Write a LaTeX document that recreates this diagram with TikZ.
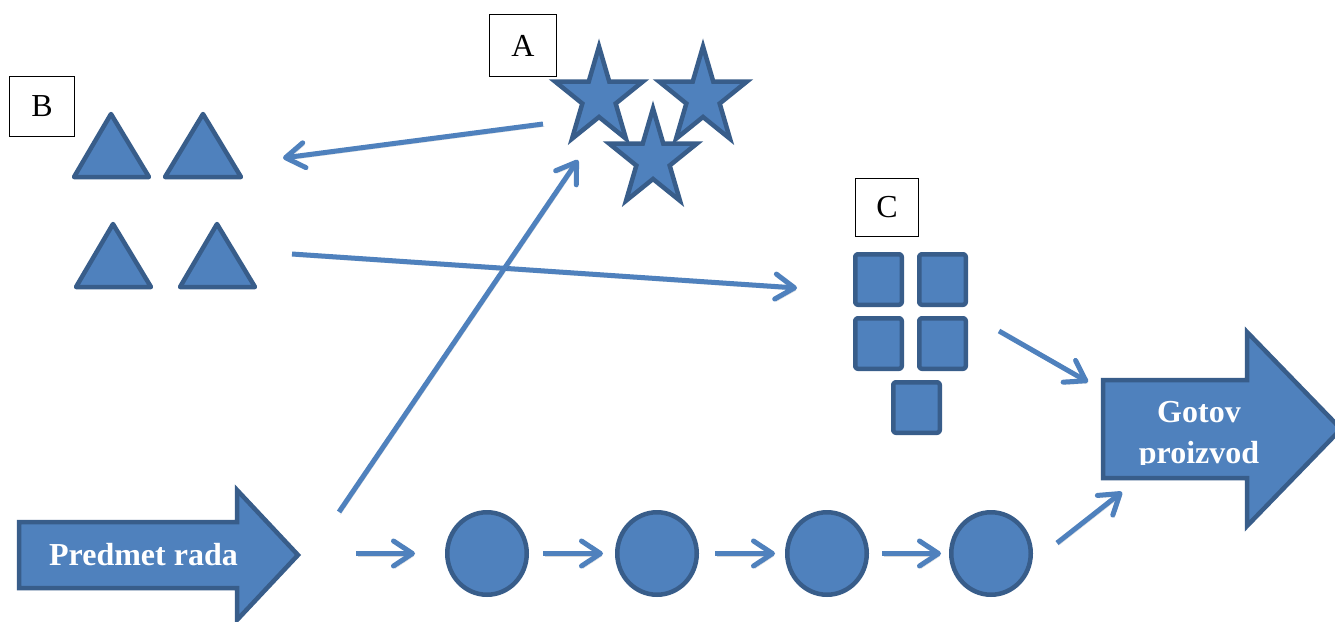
\documentclass[tikz,border=0pt]{standalone}
\usepackage{fontspec}
\setmainfont{Liberation Serif}
\usetikzlibrary{shapes.geometric,arrows.meta}
\definecolor{bfill}{HTML}{4F81BD}
\definecolor{bline}{HTML}{385D8A}
\definecolor{conncol}{HTML}{4F81BD}
\tikzset{
  shp/.style={fill=bfill, draw=bline, line width=4.5pt, line join=round},
  starshape/.style={shp, line join=miter, star, star points=5, star point ratio=2.618,
    minimum size=102pt, inner sep=0pt, transform shape},
  sqbox/.style={shp, rectangle, rounded corners=2.5pt, minimum width=46.5pt, minimum height=50.5pt, inner sep=0pt},
  circ/.style={shp, ellipse, minimum width=79.5pt, minimum height=82.5pt, inner sep=0pt},
  lbl/.style={draw=black, line width=1.2pt, fill=white, inner sep=0pt, font=\fontsize{32}{38}\selectfont},
  conn/.style={draw=conncol, line width=5pt, -{Straight Barb[round, length=19pt, width=25pt]},
    preaction={draw=black, opacity=0.15, transform canvas={shift={(1.5pt,-2.5pt)}}}},
  btxt/.style={text=white, font=\fontsize{32}{41}\selectfont\bfseries, inner sep=0pt},
}
\begin{document}
\begin{tikzpicture}[x=1pt, y=-1pt]
\useasboundingbox (0,0) rectangle (1335,621);
\fill[white] (0,0) rectangle (1335,621);

% triangles (B)
\draw[shp] (111,114) -- (74,177) -- (149,177) -- cycle;
\draw[shp] (203,114) -- (165,177) -- (241,177) -- cycle;
\draw[shp] (113,224) -- (76,287) -- (151,287) -- cycle;
\draw[shp] (217,224) -- (180,287) -- (255,287) -- cycle;

% stars (A)
\begin{scope}[shift={(599,97.5)}, xscale=0.9]
  \node[starshape] (s1) at (0,0) {};
\end{scope}
\begin{scope}[shift={(703,97.5)}, xscale=0.9]
  \node[starshape] (s2) at (0,0) {};
\end{scope}
\begin{scope}[shift={(653,159.5)}, xscale=0.9]
  \node[starshape] (s3) at (0,0) {};
\end{scope}

% squares (C)
\node[sqbox] (q1) at (878.5,279.5) {};
\node[sqbox] (q2) at (942.5,279.5) {};
\node[sqbox] (q3) at (878.5,343.5) {};
\node[sqbox] (q4) at (942.5,343.5) {};
\node[sqbox] (q5) at (916.5,407.5) {};

% circles
\node[circ] (c1) at (487,553.5) {};
\node[circ] (c2) at (657,553.5) {};
\node[circ] (c3) at (827,553.5) {};
\node[circ] (c4) at (991,553.5) {};

% block arrows
\draw[shp, line join=miter] (19,522) -- (237,522) -- (237,490) -- (298,555) -- (237,620) -- (237,588) -- (19,588) -- cycle;
\node[btxt, anchor=base] (pr) at (143.5,565) {Predmet rada};

\draw[shp, line join=miter] (1103,380) -- (1247,380) -- (1247,332) -- (1341,429) -- (1247,526) -- (1247,478) -- (1103,478) -- cycle;
\begin{scope}
  \clip (1100,330) rectangle (1300,464);
  \node[btxt, align=center, anchor=base] (gp) at (1199,463) {Gotov\\proizvod};
\end{scope}

% labels
\node[lbl, minimum width=66.8pt, minimum height=61.8pt] (lblA) at (523,45.5) {A};
\node[lbl, minimum width=64.8pt, minimum height=59.8pt] (lblB) at (42,106.5) {B};
\node[lbl, minimum width=62.8pt, minimum height=57.8pt] (lblC) at (887,207.5) {C};

% connectors
\coordinate (aOut) at (543,124);
\coordinate (bIn) at (283,158);
\draw[conn] (aOut) -- (bIn);

\coordinate (bOut) at (292,254);
\coordinate (cIn) at (797,288);
\draw[conn] (bOut) -- (cIn);

\coordinate (pOut) at (339,512);
\coordinate (aIn) at (578,160);
\draw[conn] (pOut) -- (aIn);

\coordinate (pOut2) at (356,553.5);
\draw[conn, shorten >=30pt] (pOut2) -- (c1.west);
\draw[conn, shorten <=14pt, shorten >=12pt] (c1) -- (c2);
\draw[conn, shorten <=16pt, shorten >=10pt] (c2) -- (c3);
\draw[conn, shorten <=13pt, shorten >=8pt] (c3) -- (c4);

\coordinate (c4Out) at (1057,543);
\coordinate (gIn1) at (1122,492);
\draw[conn] (c4Out) -- (gIn1);

\coordinate (qOut) at (999,331);
\coordinate (gIn2) at (1088,382);
\draw[conn] (qOut) -- (gIn2);
\end{tikzpicture}
\end{document}
